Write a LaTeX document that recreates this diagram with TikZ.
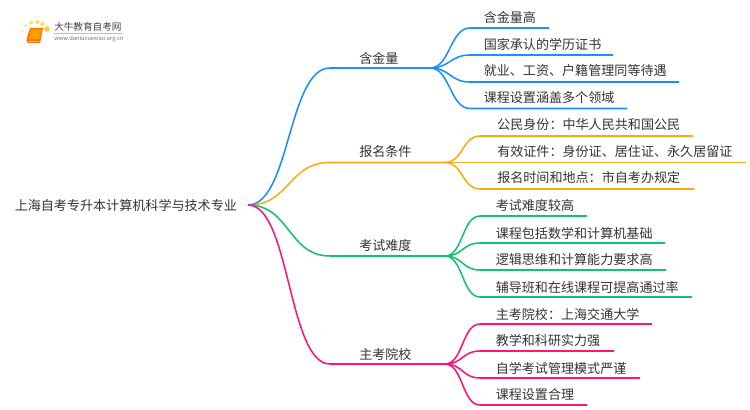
\documentclass[tikz,border=0pt]{standalone}
\usepackage{fontspec}
\setmainfont{Noto Sans CJK SC}
\tikzset{
  txt/.style={inner sep=0pt,anchor=west,text=black!80,font=\fontsize{9.8pt}{12pt}\selectfont},
  bluelink/.style={line width=1.15pt,color={rgb,255:red,24;green,144;blue,255}},
  orangelink/.style={line width=1.15pt,color={rgb,255:red,250;green,170;blue,20}},
  greenlink/.style={line width=1.15pt,color={rgb,255:red,19;green,194;blue,110}},
  pinklink/.style={line width=1.15pt,color={rgb,255:red,255;green,20;blue,115}},
  spot/.style={circle,inner sep=0pt,fill=orange!50!yellow},
}
\begin{document}
\begin{tikzpicture}[x=0.75pt,y=-0.75pt]
\useasboundingbox (0,0) rectangle (750,410);
% logo
\node[spot,minimum size=4.2pt,opacity=.8] (d1) at (47,29) {};
\node[spot,minimum size=3.2pt,opacity=.6] (d2) at (42.5,24) {};
\node[spot,minimum size=3.2pt,opacity=.6] (d3) at (37.5,22) {};
\node[spot,minimum size=3pt,opacity=.55] (d4) at (31,22.5) {};
\node[spot,minimum size=2.6pt,opacity=.45] (d5) at (26,25.5) {};
\node[spot,minimum size=2.2pt,opacity=.35] (d6) at (22.5,31) {};
\node[spot,minimum size=1.8pt,opacity=.25] (d7) at (22,36.5) {};
\node[spot,minimum size=1.5pt,opacity=.2] (d8) at (23.5,42.5) {};
\fill[orange!90!red] (30,28) -- (43,28) -- (40,43) -- (28,43) .. controls (26,43) and (26.5,40) .. (27,38) -- cycle;
\fill[orange!75!yellow] (31,29.5) -- (41.5,29.5) -- (39,39) -- (29,39) -- cycle;
\draw[orange!30!yellow,line width=.4pt] (28,41) -- (39,41);
\node[txt,font=\fontsize{7.2pt}{9pt}\selectfont,text=black!75] (logotitle) at (54,27) {大牛教育自考网};
\draw[black!25,line width=.4pt] (54,33.5) -- (122,33.5);
\node[txt,font=\fontsize{4.3pt}{6pt}\selectfont,text=black!55] (logourl) at (54,38.5) {www.daniuxuexiao.org.cn};
% root
\node[txt] (root) at (14.5,205) {上海自考专升本计算机科学与技术专业};
\coordinate (hub) at (248,205);
% hubs
\coordinate (ha) at (430,68);
\coordinate (hb) at (445,162.5);
\coordinate (hc) at (445,256);
\coordinate (hd) at (445,364);
\coordinate (sa) at (330,68);
\coordinate (sb) at (330,162.5);
\coordinate (sc) at (330,256);
\coordinate (sd) at (330,364);
% main branches
\draw[greenlink] (hub) .. controls +(42,0) and +(-42,0) .. (sc) -- (hc);
\draw[orangelink] (hub) .. controls +(42,0) and +(-42,0) .. (sb) -- (hb);
\draw[bluelink] (hub) .. controls +(42,0) and +(-42,0) .. (sa) -- (ha);
\draw[pinklink] (hub) .. controls +(42,0) and +(-42,0) .. (sd) -- (hd);
\node[txt] (a) at (359,58) {含金量};
\node[txt] (b) at (359,152) {报名条件};
\node[txt] (c) at (359,246) {考试难度};
\node[txt] (d) at (359,354) {主考院校};
% first group
\coordinate (a1s) at (470,28); \coordinate (a1e) at (549,28);
\coordinate (a2s) at (470,55); \coordinate (a2e) at (613,55);
\coordinate (a3s) at (470,82); \coordinate (a3e) at (679,82);
\coordinate (a4s) at (470,108.5); \coordinate (a4e) at (627,108.5);
\draw[bluelink] (ha) .. controls +(20,0) and +(-20,0) .. (a1s) -- (a1e);
\draw[bluelink] (ha) .. controls +(20,0) and +(-20,0) .. (a2s) -- (a2e);
\draw[bluelink] (ha) .. controls +(20,0) and +(-20,0) .. (a3s) -- (a3e);
\draw[bluelink] (ha) .. controls +(20,0) and +(-20,0) .. (a4s) -- (a4e);
\node[txt] (a1) at (483.5,17) {含金量高};
\node[txt] (a2) at (483.5,44) {国家承认的学历证书};
\node[txt] (a3) at (483.5,71) {就业、工资、户籍管理同等待遇};
\node[txt] (a4) at (483.5,98) {课程设置涵盖多个领域};
% second group
\coordinate (b1s) at (480,136); \coordinate (b1e) at (693,136);
\coordinate (b2s) at (480,162.5); \coordinate (b2e) at (746,162.5);
\coordinate (b3s) at (480,189); \coordinate (b3e) at (694,189);
\draw[orangelink] (hb) .. controls +(18,0) and +(-18,0) .. (b1s) -- (b1e);
\draw[orangelink] (hb) .. controls +(18,0) and +(-18,0) .. (b2s) -- (b2e);
\draw[orangelink] (hb) .. controls +(18,0) and +(-18,0) .. (b3s) -- (b3e);
\node[txt] (b1) at (497,125) {公民身份：中华人民共和国公民};
\node[txt] (b2) at (497,152) {有效证件：身份证、居住证、永久居留证};
\node[txt] (b3) at (497,178) {报名时间和地点：市自考办规定};
% third group
\coordinate (c1s) at (480,216); \coordinate (c1e) at (587,216);
\coordinate (c2s) at (480,243); \coordinate (c2e) at (665,243);
\coordinate (c3s) at (480,270); \coordinate (c3e) at (666,270);
\coordinate (c4s) at (480,297); \coordinate (c4e) at (692,297);
\draw[greenlink] (hc) .. controls +(18,0) and +(-18,0) .. (c1s) -- (c1e);
\draw[greenlink] (hc) .. controls +(18,0) and +(-18,0) .. (c2s) -- (c2e);
\draw[greenlink] (hc) .. controls +(18,0) and +(-18,0) .. (c3s) -- (c3e);
\draw[greenlink] (hc) .. controls +(18,0) and +(-18,0) .. (c4s) -- (c4e);
\node[txt] (c1) at (495.5,206) {考试难度较高};
\node[txt] (c2) at (495.5,233) {课程包括数学和计算机基础};
\node[txt] (c3) at (495.5,260) {逻辑思维和计算能力要求高};
\node[txt] (c4) at (495.5,287) {辅导班和在线课程可提高通过率};
% fourth group
\coordinate (d1s) at (480,324); \coordinate (d1e) at (652,324);
\coordinate (d2s) at (480,351); \coordinate (d2e) at (614,351);
\coordinate (d3s) at (480,378); \coordinate (d3e) at (640,378);
\coordinate (d4s) at (480,405); \coordinate (d4e) at (587,405);
\draw[pinklink] (hd) .. controls +(18,0) and +(-18,0) .. (d1s) -- (d1e);
\draw[pinklink] (hd) .. controls +(18,0) and +(-18,0) .. (d2s) -- (d2e);
\draw[pinklink] (hd) .. controls +(18,0) and +(-18,0) .. (d3s) -- (d3e);
\draw[pinklink] (hd) .. controls +(18,0) and +(-18,0) .. (d4s) -- (d4e);
\node[txt] (d1) at (495.5,314) {主考院校：上海交通大学};
\node[txt] (d2) at (495.5,341) {教学和科研实力强};
\node[txt] (d3) at (495.5,368) {自学考试管理模式严谨};
\node[txt] (d4) at (495.5,395) {课程设置合理};
\end{tikzpicture}
\end{document}
